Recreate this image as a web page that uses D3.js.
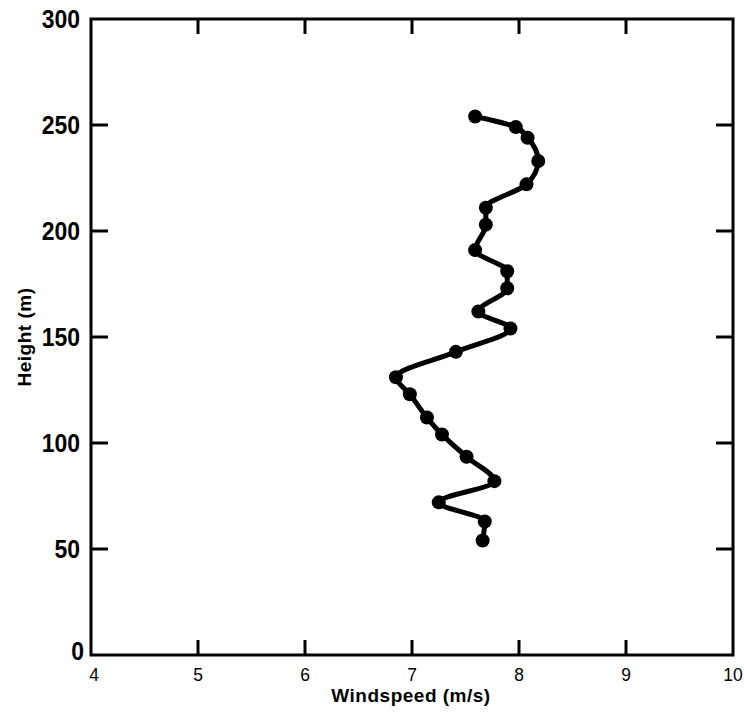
<!DOCTYPE html>
<html lang="en">
  <head>
    <meta charset="UTF-8" />
    <title>Windspeed profile</title>
    <script src="https://d3js.org/d3.v7.min.js"></script>
    <style>
      body { margin: 0; background: #fff; }
      svg { display: block; }
      text { font-family: "Liberation Sans", Arial, sans-serif; fill: #000; }
    </style>
  </head>
  <body>
    <div id="chart"></div>
    <script>
      // windspeed (m/s) at each height (m)
      const windspeed = [7.59, 7.97, 8.08, 8.18, 8.07, 7.69, 7.69, 7.59, 7.89, 7.89, 7.62, 7.92,
                         7.41, 6.85, 6.98, 7.14, 7.28, 7.51, 7.77, 7.25, 7.68, 7.66];
      const height = [254, 249, 244, 233, 222, 211, 203, 191, 181, 173, 162, 154,
                      143, 131, 123, 112, 104, 93.5, 82, 72, 63, 54];
      const xTicks = [4, 5, 6, 7, 8, 9, 10];
      const yTicks = [0, 50, 100, 150, 200, 250, 300];

      const W = 744, H = 713;
      const svg = d3.select("#chart").append("svg")
        .attr("width", W).attr("height", H);

      const x = d3.scaleLinear().domain([4, 10]).range([91, 733]);
      const y = d3.scaleLinear().domain([0, 300]).range([655, 19]);

      // bottom-up so the monotone curve runs along the height
      const pts = windspeed.map((v, i) => ({ v: v, h: height[i] }))
        .sort((a, b) => a.h - b.h);

      // frame
      svg.append("rect")
        .attr("x", x(4)).attr("y", y(300))
        .attr("width", x(10) - x(4)).attr("height", y(0) - y(300))
        .attr("fill", "none").attr("stroke", "#000").attr("stroke-width", 3);

      // inward ticks, on all four sides
      const inner = xTicks.slice(1, -1);
      svg.selectAll(".xtb").data(inner).enter().append("line")
        .attr("x1", d => x(d)).attr("x2", d => x(d))
        .attr("y1", y(0)).attr("y2", y(0) - 15)
        .attr("stroke", "#000").attr("stroke-width", 3);
      svg.selectAll(".xtt").data(inner).enter().append("line")
        .attr("x1", d => x(d)).attr("x2", d => x(d))
        .attr("y1", y(300)).attr("y2", y(300) + 15)
        .attr("stroke", "#000").attr("stroke-width", 3);
      const innerY = yTicks.slice(1, -1);
      svg.selectAll(".ytl").data(innerY).enter().append("line")
        .attr("y1", d => y(d)).attr("y2", d => y(d))
        .attr("x1", x(4)).attr("x2", x(4) + 17)
        .attr("stroke", "#000").attr("stroke-width", 3);
      svg.selectAll(".ytr").data(innerY).enter().append("line")
        .attr("y1", d => y(d)).attr("y2", d => y(d))
        .attr("x1", x(10)).attr("x2", x(10) - 17)
        .attr("stroke", "#000").attr("stroke-width", 3);

      // tick labels (narrowed a little, like the original lettering)
      svg.selectAll(".xl").data(xTicks).enter().append("text")
        .attr("transform", d => `translate(${x(d) + (d === 4 ? 3 : 0)},681) scale(0.92,1)`)
        .attr("text-anchor", "middle")
        .attr("font-size", 19)
        .text(d => d);
      svg.selectAll(".yl").data(yTicks).enter().append("text")
        .attr("transform", d => `translate(${d === 0 ? 84 : 80},${y(d) + (d === 0 ? 5 : 9)}) scale(0.92,1)`)
        .attr("text-anchor", "end")
        .attr("font-size", 25).attr("font-weight", "bold")
        .text(d => d);

      // axis titles
      svg.append("text")
        .attr("x", 411).attr("y", 702)
        .attr("text-anchor", "middle")
        .attr("font-size", 19).attr("font-weight", "bold")
        .attr("letter-spacing", 0.5)
        .text("Windspeed  (m/s)");
      svg.append("text")
        .attr("transform", "translate(31,337) rotate(-90)")
        .attr("text-anchor", "middle")
        .attr("font-size", 19).attr("font-weight", "bold")
        .attr("letter-spacing", 0.5)
        .text("Height  (m)");

      // profile
      const line = d3.line()
        .x(d => x(d.v)).y(d => y(d.h))
        .curve(d3.curveMonotoneY);
      svg.append("path")
        .datum(pts)
        .attr("d", line)
        .attr("fill", "none").attr("stroke", "#000")
        .attr("stroke-width", 5).attr("stroke-linejoin", "round");
      svg.selectAll(".pt").data(pts).enter().append("circle")
        .attr("cx", d => x(d.v)).attr("cy", d => y(d.h))
        .attr("r", 7).attr("fill", "#000");
    </script>
  </body>
</html>
